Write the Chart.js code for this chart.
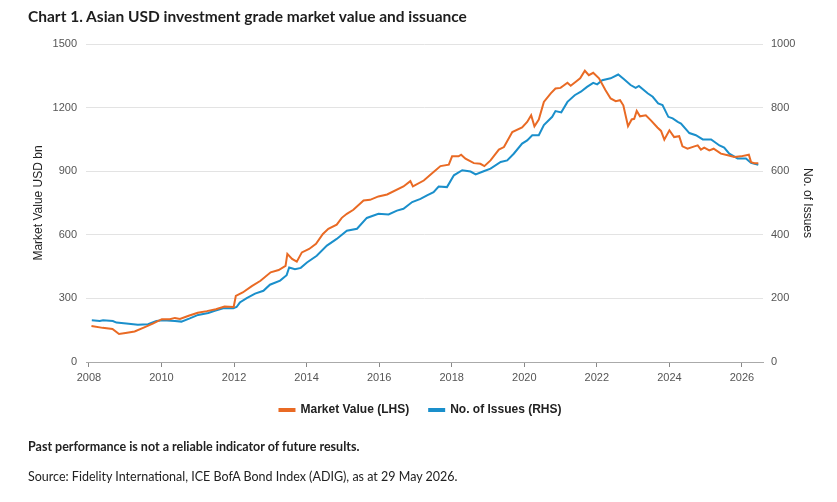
<!DOCTYPE html>
<html>
<head>
<meta charset="utf-8">
<script src="https://cdn.jsdelivr.net/npm/chart.js@4.4.1/dist/chart.umd.min.js"></script>
<style>
  html, body { margin:0; padding:0; background:#fff; }
  #wrap { position:relative; width:837px; height:502px; overflow:hidden; }
  #c { position:absolute; left:0; top:0; }
  .t { position:absolute; left:28px; white-space:nowrap; color:#1a1a1a; font-family:Lato, "Noto Sans", sans-serif; }
  #title { top:7px; font-size:15.5px; font-weight:700; color:#1e1e1e; }
  #note { top:439px; font-size:12.5px; font-weight:700; color:#222; }
  #src { top:469px; font-size:12.5px; font-weight:400; color:#222; }
</style>
</head>
<body>
<div id="wrap">
  <canvas id="c" width="837" height="502"></canvas>
  <div class="t" id="title">Chart 1. Asian USD investment grade market value and issuance</div>
  <div class="t" id="note">Past performance is not a reliable indicator of future results.</div>
  <div class="t" id="src">Source: Fidelity International, ICE BofA Bond Index (ADIG), as at 29 May 2026.</div>
</div>
<script>
// Market Value (LHS), USD bn
const mvDates = [2008.07,2008.38,2008.65,2008.83,2009.01,2009.26,2009.51,2009.76,2010.01,2010.23,2010.37,2010.51,2010.75,2011.0,2011.25,2011.5,2011.74,2011.99,2012.05,2012.24,2012.49,2012.73,2013.01,2013.23,2013.42,2013.47,2013.60,2013.73,2013.87,2014.07,2014.26,2014.45,2014.60,2014.83,2014.97,2015.11,2015.29,2015.57,2015.75,2015.98,2016.22,2016.67,2016.86,2016.93,2017.23,2017.50,2017.69,2017.92,2018.01,2018.19,2018.26,2018.38,2018.61,2018.79,2018.90,2019.07,2019.30,2019.44,2019.67,2019.94,2020.08,2020.19,2020.28,2020.40,2020.54,2020.73,2020.86,2021.0,2021.19,2021.28,2021.42,2021.54,2021.67,2021.78,2021.90,2022.06,2022.24,2022.38,2022.52,2022.64,2022.73,2022.86,2022.96,2023.03,2023.10,2023.19,2023.35,2023.49,2023.67,2023.77,2023.86,2024.00,2024.13,2024.27,2024.36,2024.50,2024.69,2024.78,2024.87,2024.96,2025.10,2025.22,2025.42,2025.61,2025.79,2025.97,2026.19,2026.25,2026.34,2026.45];
const mvValues = [170,161,156,132,137,144,162,181,202,202,208,203,218,232,240,249,262,260,312,328,358,383,423,434,453,510,486,473,517,533,557,604,628,648,680,699,718,762,765,781,790,828,853,828,856,896,924,931,970,970,978,959,938,935,924,951,1002,1014,1085,1106,1132,1164,1112,1144,1227,1267,1290,1293,1317,1303,1322,1338,1374,1353,1364,1338,1282,1243,1230,1235,1211,1112,1144,1147,1184,1159,1164,1140,1106,1090,1049,1093,1061,1065,1017,1006,1017,1022,1002,1011,998,1006,983,975,967,970,978,943,938,938];
// No. of Issues (RHS)
const issDates = [2008.08,2008.30,2008.39,2008.66,2008.76,2009.03,2009.35,2009.63,2009.86,2010.04,2010.37,2010.55,2010.78,2011.01,2011.29,2011.47,2011.70,2011.98,2012.07,2012.16,2012.35,2012.58,2012.81,2012.99,2013.27,2013.45,2013.52,2013.68,2013.84,2014.01,2014.28,2014.56,2014.83,2015.11,2015.39,2015.66,2015.98,2016.26,2016.49,2016.67,2016.91,2017.14,2017.32,2017.50,2017.64,2017.87,2018.06,2018.29,2018.52,2018.66,2018.88,2019.07,2019.35,2019.53,2019.71,2019.94,2020.08,2020.22,2020.40,2020.54,2020.77,2020.86,2021.02,2021.19,2021.39,2021.56,2021.73,2021.90,2022.01,2022.15,2022.38,2022.59,2022.75,2022.93,2023.07,2023.16,2023.40,2023.54,2023.69,2023.81,2023.97,2024.09,2024.23,2024.32,2024.55,2024.73,2024.92,2025.15,2025.38,2025.51,2025.65,2025.88,2026.11,2026.25,2026.45];
const issValues = [131,129,131,129,124,121,117,119,129,131,129,127,137,148,154,161,169,169,173,187,201,215,224,243,256,273,297,292,296,313,334,366,387,413,419,453,466,464,476,482,503,513,524,534,552,550,587,603,599,590,600,608,629,634,655,687,697,713,713,745,771,789,785,818,839,850,865,878,873,886,892,904,889,871,862,868,845,834,813,808,771,766,755,750,720,713,700,700,681,674,655,640,640,626,620];

const seriesNames = ['Market Value (LHS)', 'No. of Issues (RHS)'];
const xTicks = [2008,2010,2012,2014,2016,2018,2020,2022,2024,2026];
const leftTicks = [0,300,600,900,1200,1500];
const rightTicks = [0,200,400,600,800,1000];

const ORANGE = '#e96a24';
const BLUE = '#1a8fcb';
const toXY = (xs, ys) => xs.map((x, i) => ({ x: x, y: ys[i] }));
const tickFont = { family: '"Liberation Sans", Arial, sans-serif', size: 11 };
const titleFont = { family: '"Liberation Sans", Arial, sans-serif', size: 12 };
const plain = v => String(v);

new Chart(document.getElementById('c'), {
  type: 'line',
  data: {
    datasets: [
      { label: seriesNames[0], data: toXY(mvDates, mvValues), yAxisID: 'y',
        borderColor: ORANGE, backgroundColor: ORANGE, borderWidth: 2, pointRadius: 0, tension: 0 },
      { label: seriesNames[1], data: toXY(issDates, issValues), yAxisID: 'y1',
        borderColor: BLUE, backgroundColor: BLUE, borderWidth: 2, pointRadius: 0, tension: 0 }
    ]
  },
  options: {
    responsive: false,
    animation: false,
    devicePixelRatio: 1,
    layout: { padding: { left: 26, right: 22, top: 44, bottom: 76 } },
    plugins: {
      tooltip: { enabled: false },
      legend: {
        position: 'bottom',
        labels: {
          boxWidth: 15, boxHeight: 2, padding: 20,
          color: '#222',
          font: { family: '"Liberation Sans", Arial, sans-serif', size: 12, weight: 'bold' }
        }
      }
    },
    scales: {
      x: {
        type: 'linear', min: 2007.92, max: 2026.58,
        afterBuildTicks: s => { s.ticks = xTicks.map(v => ({ value: v })); },
        afterFit: s => { s.height = 22; },
        grid: { drawOnChartArea: false, drawTicks: true, tickLength: 5, color: '#888' },
        border: { display: true, color: '#aaa', width: 1 },
        ticks: { font: tickFont, color: '#555', padding: 4, maxRotation: 0, callback: plain }
      },
      y: {
        position: 'left', min: 0, max: 1500,
        afterBuildTicks: s => { s.ticks = leftTicks.map(v => ({ value: v })); },
        afterFit: s => { s.width = 60; },
        grid: { color: '#e3e3e3', drawTicks: false },
        border: { display: false },
        ticks: { font: tickFont, color: '#555', padding: 9, callback: plain },
        title: { display: true, text: 'Market Value USD bn', font: titleFont, color: '#222', padding: { top: 5, bottom: 0 } }
      },
      y1: {
        position: 'right', min: 0, max: 1000,
        afterBuildTicks: s => { s.ticks = rightTicks.map(v => ({ value: v })); },
        afterFit: s => { s.width = 52; },
        grid: { display: false, drawTicks: false },
        border: { display: false },
        ticks: { font: tickFont, color: '#555', padding: 8, callback: plain },
        title: { display: true, text: 'No. of Issues', font: titleFont, color: '#222', padding: 0 }
      }
    }
  }
});
</script>
</body>
</html>
